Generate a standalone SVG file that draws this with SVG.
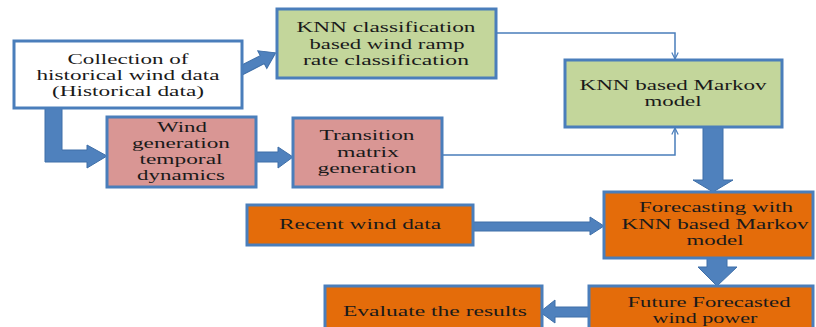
<svg xmlns="http://www.w3.org/2000/svg" width="816" height="327" viewBox="0 0 816 327">
<style>
.box{stroke:#4a7ebb;stroke-width:3}
.white{fill:#ffffff}
.green{fill:#c3d69b}
.pink{fill:#d99694}
.orange{fill:#e46c0a}
.blk{fill:#4f81bd;stroke:#3f6fa8;stroke-width:1}
.thin{fill:none;stroke:#4a7ebb;stroke-width:1.5}
text{font-family:"Liberation Serif","Times New Roman",serif;font-size:14px;fill:#1a1a1a;text-anchor:middle}
</style>
<defs>
<marker id="v" viewBox="0 0 10 10" refX="9" refY="5" markerWidth="8" markerHeight="8" markerUnits="userSpaceOnUse" orient="auto">
<path d="M1,1 L9,5 L1,9" fill="none" stroke="#4a7ebb" stroke-width="1.5"/>
</marker>
</defs>
<g id="connectors">
<path class="thin" d="M496,33 H675 V59" marker-end="url(#v)"/>
<path class="thin" d="M442,155 H675 V128" marker-end="url(#v)"/>
<g transform="translate(240,71) rotate(-27)"><polygon class="blk" points="0,-4.5 25,-4.5 25,-10 40,0 25,10 25,4.5 0,4.5"/></g>
<polygon class="blk" points="45,108 62,108 62,150 87,150 87,145 107,156 87,168 87,162 45,162"/>
<polygon class="blk" points="256,152 278,152 278,147 293,157 278,168 278,162 256,162"/>
<polygon class="blk" points="703,127 723,127 723,180 733,180 713,192 693,180 703,180"/>
<polygon class="blk" points="473,222 590,222 590,217 604,226 590,235 590,231 473,231"/>
<polygon class="blk" points="707,258 727,258 727,267 737,267 717,286 698,267 707,267"/>
<polygon class="blk" points="590,307 555,307 555,300 540,312 555,323 555,317 590,317"/>
</g>
<g id="collection">
<rect class="box white" x="14" y="41" width="228" height="67"/>
<text x="128" y="64" textLength="121" lengthAdjust="spacingAndGlyphs">Collection of</text>
<text x="128" y="80" textLength="183" lengthAdjust="spacingAndGlyphs">historical wind data</text>
<text x="128" y="96" textLength="152" lengthAdjust="spacingAndGlyphs">(Historical data)</text>
</g>
<g id="knn-classification">
<rect class="box green" x="277" y="9" width="219" height="69"/>
<text x="386" y="32" textLength="179" lengthAdjust="spacingAndGlyphs">KNN classification</text>
<text x="387" y="49" textLength="155" lengthAdjust="spacingAndGlyphs">based wind ramp</text>
<text x="386" y="65" textLength="166" lengthAdjust="spacingAndGlyphs">rate classification</text>
</g>
<g id="knn-markov">
<rect class="box green" x="565" y="60" width="217" height="67"/>
<text x="673" y="90" textLength="187" lengthAdjust="spacingAndGlyphs">KNN based Markov</text>
<text x="673" y="106" textLength="57" lengthAdjust="spacingAndGlyphs">model</text>
</g>
<g id="wind-generation">
<rect class="box pink" x="107" y="117" width="149" height="70"/>
<text x="182" y="132" textLength="50" lengthAdjust="spacingAndGlyphs">Wind</text>
<text x="181" y="148" textLength="98" lengthAdjust="spacingAndGlyphs">generation</text>
<text x="181" y="164" textLength="83" lengthAdjust="spacingAndGlyphs">temporal</text>
<text x="181" y="180" textLength="88" lengthAdjust="spacingAndGlyphs">dynamics</text>
</g>
<g id="transition">
<rect class="box pink" x="293" y="118" width="149" height="69"/>
<text x="367" y="140" textLength="95" lengthAdjust="spacingAndGlyphs">Transition</text>
<text x="368" y="157" textLength="62" lengthAdjust="spacingAndGlyphs">matrix</text>
<text x="367" y="173" textLength="99" lengthAdjust="spacingAndGlyphs">generation</text>
</g>
<g id="recent">
<rect class="box orange" x="247" y="205" width="226" height="40"/>
<text x="360" y="229" textLength="162" lengthAdjust="spacingAndGlyphs">Recent wind data</text>
</g>
<g id="forecasting">
<rect class="box orange" x="604" y="192" width="209" height="66"/>
<text x="716" y="212" textLength="154" lengthAdjust="spacingAndGlyphs">Forecasting with</text>
<text x="715" y="229" textLength="187" lengthAdjust="spacingAndGlyphs">KNN based Markov</text>
<text x="715" y="245" textLength="57" lengthAdjust="spacingAndGlyphs">model</text>
</g>
<g id="future">
<rect class="box orange" x="589" y="286" width="224" height="55"/>
<text x="709" y="307" textLength="163" lengthAdjust="spacingAndGlyphs">Future Forecasted</text>
<text x="705" y="323" textLength="105" lengthAdjust="spacingAndGlyphs">wind power</text>
</g>
<g id="evaluate">
<rect class="box orange" x="325" y="286" width="217" height="55"/>
<text x="435" y="316" textLength="184" lengthAdjust="spacingAndGlyphs">Evaluate the results</text>
</g>
</svg>
